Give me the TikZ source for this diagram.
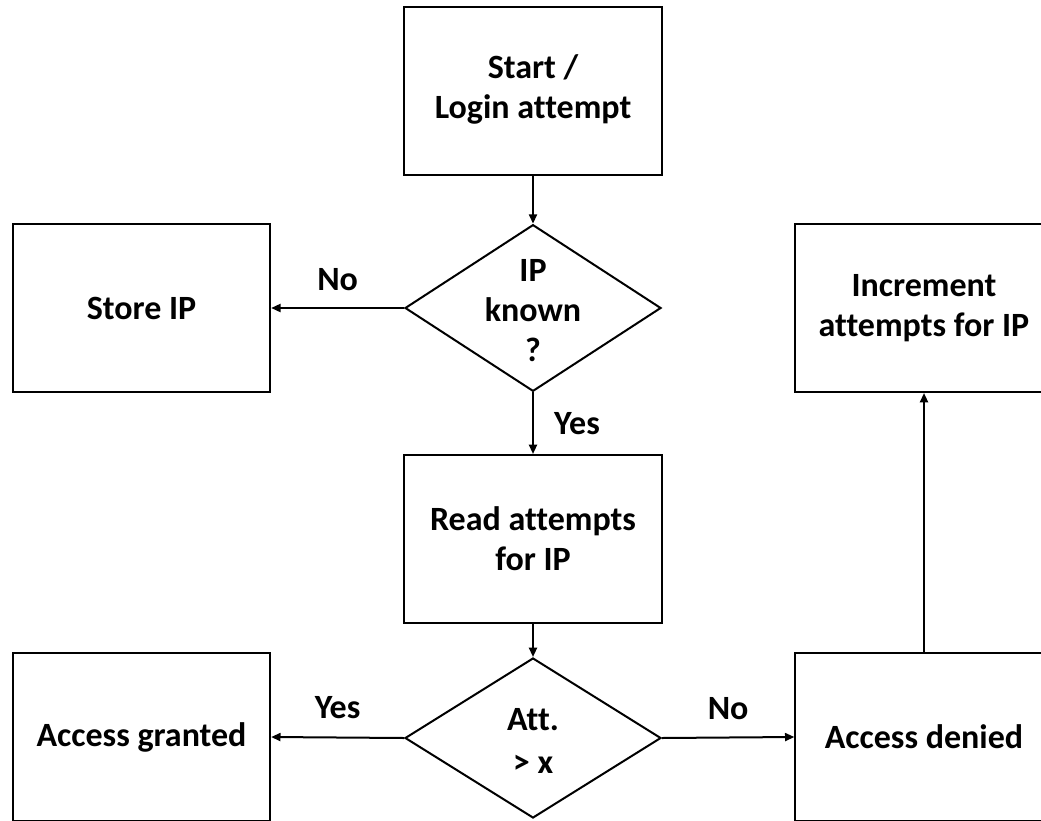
\documentclass[tikz,border=0pt]{standalone}
\usepackage{fontspec}
\setmainfont{Carlito}[Ligatures={NoCommon}]
\usetikzlibrary{shapes.geometric,arrows.meta}
\tikzset{
  every node/.style={font=\bfseries\fontsize{25.5}{30}\selectfont},
  box/.style={draw, line width=1.5pt, rectangle, minimum width=193pt, minimum height=126pt, inner sep=0pt, align=center},
  decision/.style={draw, line width=1.5pt, diamond, aspect=1.53, minimum width=192pt, minimum height=125pt, inner sep=0pt},
  flow/.style={line width=1.5pt, -{Triangle[length=7pt,width=6pt]}},
  lbl/.style={anchor=base}
}
\begin{document}
\begin{tikzpicture}[x=0.75pt, y=-0.75pt]
  \useasboundingbox (0,0) rectangle (1041,820);
  \clip (0,0) rectangle (1041,820);

  % process boxes
  \node[box, text depth=6pt] (start) at (533,91) {Start /\\Login attempt};
  \node[box] (store) at (141.5,308) {Store IP};
  \node[box] (incr) at (924,308) {Increment\\attempts for IP};
  \node[box] (read) at (533,539) {Read attempts\\for IP};
  \node[box] (granted) at (141.5,737) {Access granted};
  \node[box] (denied) at (924,737) {Access denied};

  % decisions
  \node[decision] (known) at (533,308) {};
  \node[align=center] (knowntxt) at (533,311) {IP\\known\\?};
  \node[decision, minimum height=120pt] (att) at (533,738) {};
  \node[align=center] (atttxt) at (533,741) {Att.\\[2pt]{>}~x};

  % connectors
  \draw[flow] (start.south) -- (known.north);
  \draw[flow] (known.west) -- node[lbl, yshift=13.5pt] {No} (store.east);
  \draw[flow] (known.south) -- node[lbl, xshift=33pt, yshift=-8.6pt] {Yes} (read.north);
  \draw[flow] (read.south) -- (att.north);
  \draw[flow] (att.west) -- node[lbl, yshift=14pt] {Yes} (granted.east);
  \draw[flow] (att.east) -- node[lbl, yshift=13.5pt] {No} (denied.west);
  \draw[flow] (denied.north) -- (incr.south);
\end{tikzpicture}
\end{document}
